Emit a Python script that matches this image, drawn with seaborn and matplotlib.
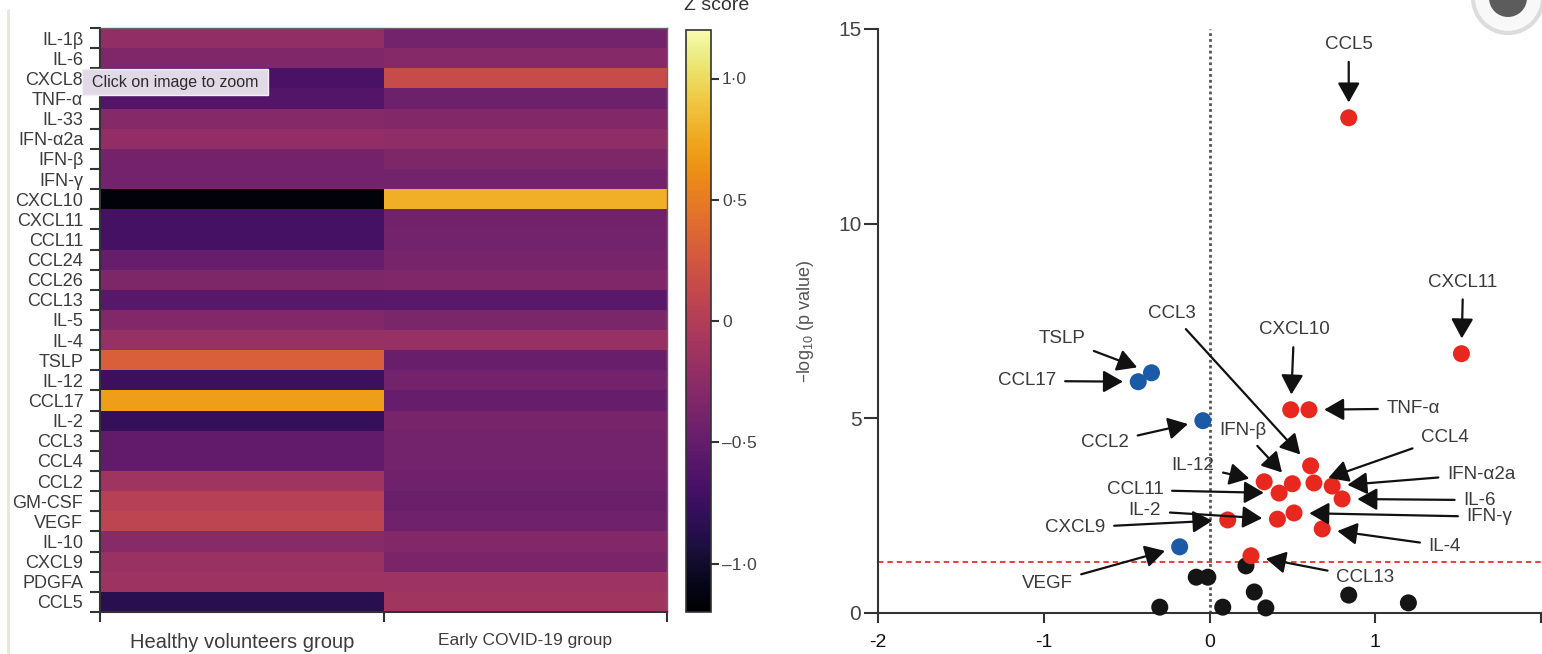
import numpy as np
import pandas as pd
import matplotlib
matplotlib.use("Agg")
import matplotlib.pyplot as plt
from matplotlib.colors import ListedColormap
from matplotlib.patches import Rectangle, Ellipse
from matplotlib.lines import Line2D
import seaborn as sns

# ---------------- heatmap: mean z score per cytokine and group ----------------
cytokines = ["IL-1β", "IL-6", "CXCL8", "TNF-α", "IL-33", "IFN-α2a", "IFN-β", "IFN-γ",
             "CXCL10", "CXCL11", "CCL11", "CCL24", "CCL26", "CCL13", "IL-5", "IL-4",
             "TSLP", "IL-12", "CCL17", "IL-2", "CCL3", "CCL4", "CCL2", "GM-CSF", "VEGF",
             "IL-10", "CXCL9", "PDGFA", "CCL5"]
healthy_z = [-0.22, -0.33, -0.67, -0.61, -0.30, -0.21, -0.40, -0.41,
             -1.15, -0.70, -0.70, -0.49, -0.34, -0.58, -0.31, -0.17,
             0.31, -0.74, 0.70, -0.78, -0.52, -0.52, -0.13, 0.03, 0.08,
             -0.29, -0.16, -0.14, -0.85]
early_covid_z = [-0.41, -0.30, 0.15, -0.44, -0.31, -0.23, -0.34, -0.41,
                 0.78, -0.42, -0.41, -0.38, -0.33, -0.57, -0.35, -0.17,
                 -0.47, -0.41, -0.49, -0.38, -0.41, -0.41, -0.43, -0.46, -0.43,
                 -0.31, -0.36, -0.15, -0.12]
group_labels = ["Healthy volunteers group", "Early COVID-19 group"]

zscore_ticks = [-1.0, -0.5, 0.0, 0.5, 1.0]
zscore_tick_labels = ["\u20131·0", "\u20130·5", "0", "0·5", "1·0"]

# ---------------- volcano: fold change vs significance ----------------
volcano_names = ["CCL5", "CXCL11", "CXCL10", "TNF-α", "CCL3", "IL-12", "IFN-β", "CCL4",
                 "IFN-α2a", "IL-6", "CCL11", "IL-2", "IFN-γ", "IL-4", "CXCL9", "CCL13",
                 "TSLP", "CCL17", "CCL2", "VEGF",
                 "IL-1β", "CXCL8", "IL-33", "CCL24", "CCL26", "IL-5", "GM-CSF", "IL-10", "PDGFA"]
fold_change = [0.84, 1.52, 0.49, 0.60, 0.61, 0.33, 0.50, 0.63,
               0.74, 0.80, 0.42, 0.41, 0.51, 0.68, 0.11, 0.25,
               -0.35, -0.43, -0.04, -0.18,
               0.22, -0.08, -0.01, 0.27, 0.84, -0.30, 0.08, 0.34, 1.20]
neg_log10_p = [12.72, 6.66, 5.22, 5.22, 3.78, 3.37, 3.32, 3.34,
               3.26, 2.93, 3.08, 2.41, 2.57, 2.16, 2.39, 1.47,
               6.17, 5.94, 4.94, 1.70,
               1.21, 0.92, 0.92, 0.54, 0.46, 0.15, 0.15, 0.13, 0.26]
regulation = ["up"] * 16 + ["down"] * 4 + ["ns"] * 9
significance_cutoff = -np.log10(0.05)

x_ticks = [-2, -1, 0, 1, 2]
x_tick_labels = ["-2", "-1", "0", "1", ""]
y_ticks = [0, 5, 10, 15]
y_tick_labels = ["0", "5", "10", "15"]

# where each callout label sits (data units)
callout_text = {
    "CCL5": (0.84, 14.6), "CXCL11": (1.53, 8.5), "CCL3": (-0.23, 7.7),
    "CXCL10": (0.51, 7.27), "TNF-α": (1.23, 5.25), "TSLP": (-0.89, 7.04),
    "CCL17": (-1.10, 5.96), "CCL2": (-0.63, 4.37), "IFN-β": (0.20, 4.70),
    "CCL4": (1.42, 4.52), "IL-12": (-0.10, 3.78), "IFN-α2a": (1.64, 3.57),
    "CCL11": (-0.45, 3.16), "IL-6": (1.63, 2.90), "IL-2": (-0.39, 2.62),
    "IFN-γ": (1.69, 2.47), "CXCL9": (-0.81, 2.19), "IL-4": (1.42, 1.72),
    "CCL13": (0.94, 0.90), "VEGF": (-0.98, 0.75),
}

sns.set_style("ticks")
plt.rcParams["font.family"] = ["Liberation Sans", "DejaVu Sans"]
plt.rcParams["axes.unicode_minus"] = False

# slightly muted inferno for the print look
_base = plt.get_cmap("inferno")(np.linspace(0, 1, 256))
_grey = _base[:, :3].mean(axis=1, keepdims=True)
_base[:, :3] = 0.88 * _base[:, :3] + 0.12 * _grey
muted_inferno = ListedColormap(_base, name="muted_inferno")

W, H = 1542, 654
fig = plt.figure(figsize=(W / 100, H / 100), dpi=100)
fig.patch.set_facecolor("white")

ax_hm = fig.add_axes([100 / W, 1 - 612 / H, (667 - 100) / W, (612 - 28) / H])
ax_cb = fig.add_axes([686 / W, 1 - 612 / H, 25 / W, (612 - 30) / H])
ax_v = fig.add_axes([878 / W, 1 - 613 / H, (1541 - 878) / W, (613 - 29) / H])

# ---------------- heatmap ----------------
heat = pd.DataFrame({group_labels[0]: healthy_z, group_labels[1]: early_covid_z},
                    index=cytokines)
sns.heatmap(heat, cmap=muted_inferno, vmin=-1.2, vmax=1.2, ax=ax_hm, cbar_ax=ax_cb)

n = len(cytokines)
ax_hm.set_yticks(np.arange(n + 1))
ax_hm.set_yticklabels([])
ax_hm.set_yticks(np.arange(n) + 0.5, minor=True)
ax_hm.set_yticklabels(cytokines, minor=True)
ax_hm.tick_params(axis="y", which="major", left=True, length=7.5, width=1.5, color="#333333")
ax_hm.tick_params(axis="y", which="minor", left=True, length=0, pad=12,
                  labelsize=13, labelcolor="#3c3c3c")

ax_hm.set_xticks([0, 1, 2])
ax_hm.set_xticklabels([])
ax_hm.set_xticks([0.5, 1.5], minor=True)
ax_hm.set_xticklabels(group_labels, minor=True)
ax_hm.tick_params(axis="x", which="major", bottom=True, length=7.5, width=1.5, color="#333333")
ax_hm.tick_params(axis="x", which="minor", bottom=True, length=0, pad=15, labelcolor="#3c3c3c")
for lbl, size in zip(ax_hm.get_xticklabels(minor=True), [14.5, 12.5]):
    lbl.set_fontsize(size)
ax_hm.set_xlabel("")
ax_hm.set_ylabel("")
for side, sp in ax_hm.spines.items():
    sp.set_visible(True)
    if side in ("left", "bottom"):
        sp.set_color("#333333")
        sp.set_linewidth(1.5)
    else:
        sp.set_color("#666666")
        sp.set_linewidth(1.0)

cb = ax_hm.collections[0].colorbar
cb.set_ticks(zscore_ticks, labels=zscore_tick_labels)
cb.ax.tick_params(length=6, width=1.5, color="#333333", labelsize=12.5,
                  labelcolor="#444444", pad=2)
cb.outline.set_edgecolor("#333333")
cb.outline.set_linewidth(1.2)
fig.text(717 / W, 1 - 10 / H, "Z score", ha="center", va="baseline",
         fontsize=14, color="#333333")

# ---------------- volcano ----------------
vdf = pd.DataFrame({"name": volcano_names, "fc": fold_change,
                    "p": neg_log10_p, "reg": regulation})
draw_rank = {"ns": 0, "down": 1, "up": 2}
vdf = vdf.sort_values("reg", key=lambda s: s.map(draw_rank), kind="stable")

ax_v.axvline(0, color="#555555", lw=2.0, ls=(0, (1, 1.1)), zorder=1)
ax_v.axhline(significance_cutoff, color="#e8302a", lw=1.3, ls=(0, (3, 2.2)), zorder=1)

sns.scatterplot(data=vdf, x="fc", y="p", hue="reg",
                palette={"up": "#e8281e", "down": "#1a5aa6", "ns": "#151515"},
                s=150, linewidth=0, legend=False, ax=ax_v, clip_on=False, zorder=3)

ax_v.set_xlim(-2, 2)
ax_v.set_ylim(0, 15)
sns.despine(ax=ax_v)
for side in ("left", "bottom"):
    ax_v.spines[side].set_color("#333333")
    ax_v.spines[side].set_linewidth(1.5)
ax_v.set_xticks(x_ticks, labels=x_tick_labels)
ax_v.set_yticks(y_ticks, labels=y_tick_labels)
ax_v.tick_params(axis="x", length=7, width=1.5, color="#333333", pad=8,
                 labelsize=14, labelcolor="#111111")
ax_v.tick_params(axis="y", length=10, width=1.5, color="#333333", pad=2,
                 labelsize=15, labelcolor="#444444")
ax_v.set_xlabel("")
ax_v.set_ylabel("\u2013log$_{\\mathregular{10}}$ (p value)", fontsize=13,
                color="#555555", labelpad=16)

for name, (tx, ty) in callout_text.items():
    row = vdf.loc[vdf["name"] == name].iloc[0]
    ax_v.annotate(name, xy=(row["fc"], row["p"]), xytext=(tx, ty),
                  ha="center", va="center", fontsize=13.5, color="#3a3a3a",
                  annotation_clip=False,
                  arrowprops=dict(arrowstyle="-|>,head_length=0.8,head_width=0.45",
                                  mutation_scale=15, lw=1.6, color="#111111",
                                  shrinkA=4, shrinkB=11))

# ---------------- page furniture ----------------
fig.add_artist(Line2D([8 / W, 8 / W], [0, 1 - 10 / H], color="#f1e3d3", lw=2,
                      transform=fig.transFigure, zorder=0))
fig.add_artist(Rectangle((82 / W, 1 - 95 / H), 186 / W, 26 / H, transform=fig.transFigure,
                         facecolor="#e2d9e6", edgecolor="#f4eff5", lw=1, zorder=10))
fig.text(92 / W, 1 - 82 / H, "Click on image to zoom", ha="left", va="center",
         fontsize=11.5, color="#2b2b2b", zorder=11)
fig.add_artist(Ellipse((1508 / W, 1 + 2 / H), 70 / W, 70 / H, transform=fig.transFigure,
                       facecolor="#f8f8f8", edgecolor="#dcdcdc", lw=3, zorder=10))
fig.add_artist(Ellipse((1508 / W, 1 + 2 / H), 38 / W, 38 / H, transform=fig.transFigure,
                       facecolor="#5c5c5c", edgecolor="none", zorder=11))

fig.savefig("out.png", dpi=100, facecolor="white")
